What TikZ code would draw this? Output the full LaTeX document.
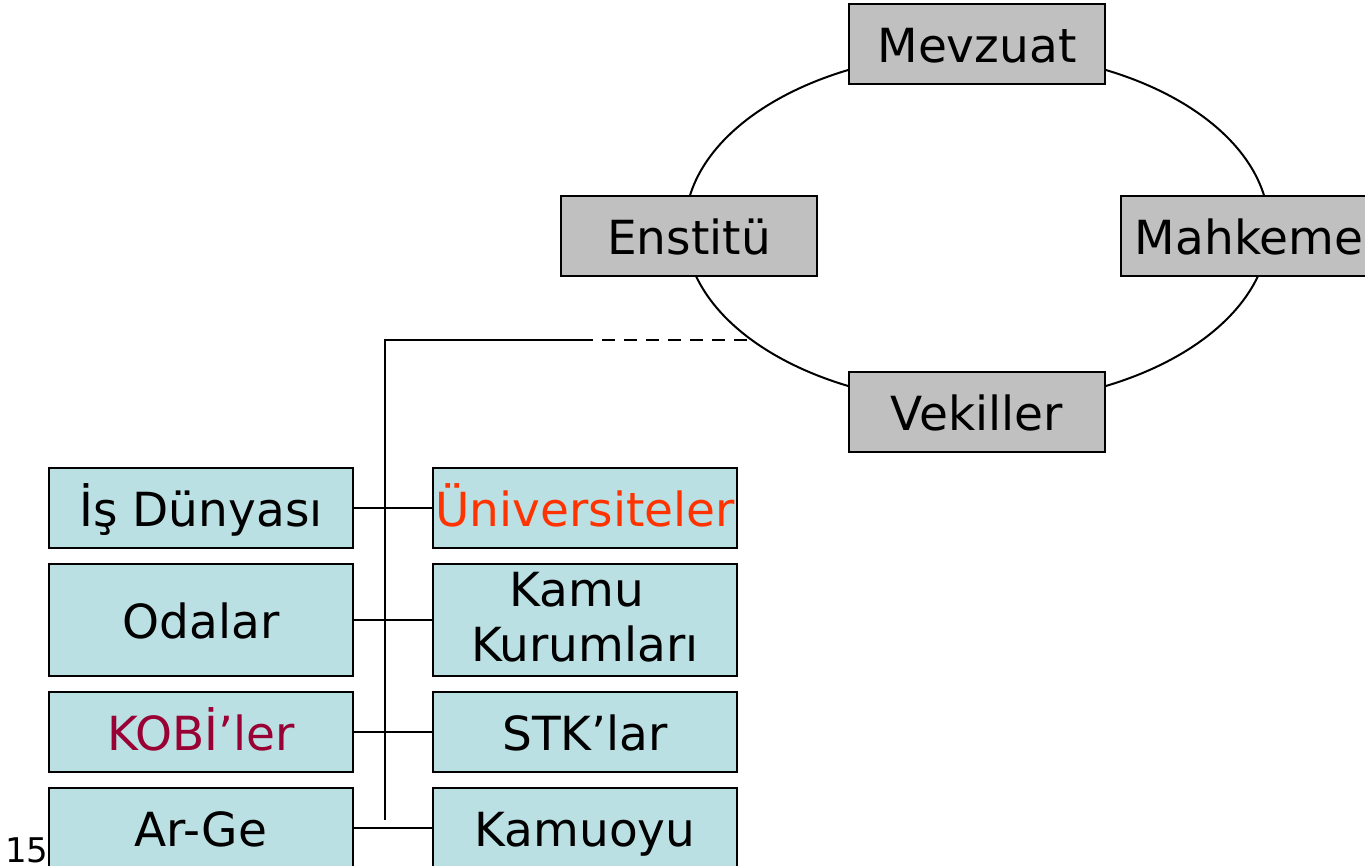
\documentclass[tikz,border=0pt]{standalone}
\usepackage{fontspec}
\setmainfont{DejaVu Sans}
\definecolor{boxgray}{HTML}{C0C0C0}
\definecolor{boxteal}{HTML}{BBE0E3}
\definecolor{unired}{HTML}{FF3300}
\definecolor{kobired}{HTML}{990033}
\begin{document}
\begin{tikzpicture}[x=1pt,y=-1pt,
  base/.style={draw=black,line width=2.8pt,inner sep=0pt,font=\fontsize{47}{55}\selectfont,
    text height=42pt,text depth=5pt},
  graybox/.style={base,fill=boxgray,minimum width=256pt,minimum height=80pt},
  tealbox/.style={base,fill=boxteal,minimum width=304pt,minimum height=80pt},
  conn/.style={line width=2.5pt},
  dashconn/.style={line width=2.5pt,dash pattern=on 13pt off 9pt,dash phase=13pt}]
\useasboundingbox (0,0) rectangle (1365,866);
\clip (0,0) rectangle (1365,866);
\fill[white] (0,0) rectangle (1365,866);
% cycle
\draw[line width=2pt] (977,228) ellipse [x radius=292pt, y radius=176pt];
\node[graybox] (mev) at (977,44) {Mevzuat};
\node[graybox] (ens) at (689,236) {Enstitü};
\node[graybox] (mah) at (1249,236) {Mahkeme};
\node[graybox] (vek) at (977,412) {Vekiller};
% boxes
\node[tealbox] (is) at (201,508) {İş Dünyası};
\node[tealbox,minimum height=112pt] (oda) at (201,620) {Odalar};
\node[tealbox,text=kobired] (kobi) at (201,732) {KOBİ’ler};
\node[tealbox] (arge) at (201,828) {Ar-Ge};
\node[tealbox,text=unired] (uni) at (585,508) {Üniversiteler};
\node[tealbox,minimum height=112pt] (kamu) at (585,620) {};
\node[font=\fontsize{47}{55}\selectfont,align=center,inner sep=0pt,yshift=3pt] (kamut) at (kamu.center) {Kamu\kern0.35em\\Kurumları};
\node[tealbox] (stk) at (585,732) {STK’lar};
\node[tealbox] (kamuoyu) at (585,828) {Kamuoyu};
\node[font=\fontsize{34}{40}\selectfont,anchor=base west,inner sep=0pt] (num) at (5,862) {15};
% connectors
\coordinate (top) at (385,340);
\coordinate (bot) at (385,820);
\coordinate (mid) at (593,340);
\coordinate (eend) at (752,340);
\draw[conn] (bot) -- (top) -- (mid);
\draw[dashconn] (mid) -- (eend);
\draw[conn] (is.east) -- (uni.west);
\draw[conn] (oda.east) -- (kamu.west);
\draw[conn] (kobi.east) -- (stk.west);
\draw[conn] (arge.east) -- (kamuoyu.west);
\end{tikzpicture}
\end{document}
